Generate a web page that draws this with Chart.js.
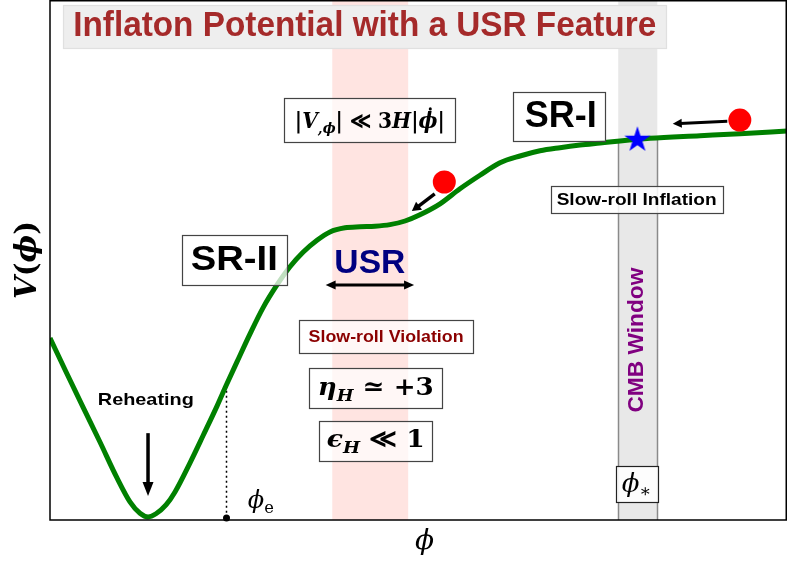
<!DOCTYPE html>
<html>
<head>
<meta charset="utf-8">
<script src="https://cdn.jsdelivr.net/npm/chart.js@4.4.1/dist/chart.umd.min.js"></script>
<style>
  html, body { margin: 0; padding: 0; background: #fff; }
  #wrap { width: 787px; height: 561px; position: relative; }
</style>
</head>
<body>
<div id="wrap"><canvas id="potential-chart"></canvas></div>
<script>
// Potential: phi in arbitrary units (0..10), V normalised (0..1)
const phi = [0.000, 0.217, 0.448, 0.678, 0.909, 1.085, 1.221, 1.330, 1.438, 1.574, 1.696, 1.900,
             2.076, 2.266, 2.388, 2.537, 2.714, 2.890, 3.080, 3.256, 3.433, 3.623, 3.799, 4.003,
             4.206, 4.410, 4.613, 4.817, 5.020, 5.292, 5.563, 5.834, 6.106, 6.377, 6.649, 6.920,
             7.191, 7.463, 7.734, 8.141, 8.820, 9.362, 10.000];
const potential = [0.350, 0.285, 0.217, 0.150, 0.081, 0.035, 0.013, 0.006, 0.012, 0.029, 0.054, 0.110,
                   0.162, 0.219, 0.258, 0.304, 0.358, 0.408, 0.452, 0.487, 0.515, 0.538, 0.554, 0.562,
                   0.564, 0.565, 0.568, 0.575, 0.587, 0.608, 0.637, 0.663, 0.687, 0.700, 0.710, 0.716,
                   0.721, 0.725, 0.729, 0.734, 0.739, 0.743, 0.748];

// Rolling balls and the CMB pivot star
const ballPhi = [9.36, 5.35];
const ballV = [0.769, 0.650];
const starPhi = [7.97];
const starV = [0.731];

// Shaded windows and end of inflation
const usrBand = [3.83, 4.86];
const cmbBand = [7.71, 8.24];
const phiEnd = 2.388;

const vAt = (p) => {
    for (let i = 1; i < phi.length; i++) {
        if (p <= phi[i]) {
            const t = (p - phi[i - 1]) / (phi[i] - phi[i - 1]);
            return potential[i - 1] + t * (potential[i] - potential[i - 1]);
        }
    }
    return potential[potential.length - 1];
};

// filled 5-point star used as a point style
function makeStar(r, color) {
    const c = document.createElement('canvas');
    const s = Math.ceil(r * 2 + 2);
    c.width = s; c.height = s;
    const g = c.getContext('2d');
    g.translate(s / 2, s / 2);
    g.beginPath();
    for (let i = 0; i < 10; i++) {
        const rr = i % 2 === 0 ? r : r * 0.382;
        const a = -Math.PI / 2 + i * Math.PI / 5;
        g.lineTo(rr * Math.cos(a), rr * Math.sin(a));
    }
    g.closePath();
    g.fillStyle = color;
    g.fill();
    return c;
}

const SANS = '"Liberation Sans", Arial, sans-serif';
const SERIF = '"DejaVu Serif", serif';

function serifFont(s, size) {
    const sz = s.sub ? size * 0.68 : size;
    return (s.f.includes('i') ? 'italic ' : '') + (s.f.includes('b') ? 'bold ' : '') + sz + 'px ' + SERIF;
}

const annotations = {
    id: 'annotations',
    beforeDatasetsDraw(chart) {
        const { ctx, chartArea: a, scales: { x, y } } = chart;
        ctx.save();
        // USR window
        ctx.fillStyle = '#ffe4e1';
        ctx.fillRect(x.getPixelForValue(usrBand[0]), a.top, x.getPixelForValue(usrBand[1]) - x.getPixelForValue(usrBand[0]), a.bottom - a.top);
        // CMB window
        ctx.fillStyle = '#e8e8e8';
        ctx.fillRect(x.getPixelForValue(cmbBand[0]), a.top, x.getPixelForValue(cmbBand[1]) - x.getPixelForValue(cmbBand[0]), a.bottom - a.top);
        ctx.strokeStyle = '#8a8a8a';
        ctx.lineWidth = 1.5;
        cmbBand.forEach(p => {
            const xp = Math.round(x.getPixelForValue(p)) + 0.5;
            ctx.beginPath();
            ctx.moveTo(xp, y.getPixelForValue(vAt(p)));
            ctx.lineTo(xp, a.bottom);
            ctx.stroke();
        });
        // end of inflation marker
        const xe = Math.round(x.getPixelForValue(phiEnd)) + 0.5;
        ctx.strokeStyle = '#000';
        ctx.lineWidth = 1.5;
        ctx.setLineDash([2, 3]);
        ctx.beginPath();
        ctx.moveTo(xe, y.getPixelForValue(vAt(phiEnd)));
        ctx.lineTo(xe, a.bottom);
        ctx.stroke();
        ctx.restore();
    },
    afterDatasetsDraw(chart) {
        const { ctx, chartArea: a, scales: { x, y } } = chart;
        const X = v => x.getPixelForValue(v);
        const Y = v => y.getPixelForValue(v);

        const box = (cx, cy, w, h, fill, stroke) => {
            const l = Math.round(cx - w / 2) + 0.5, t = Math.round(cy - h / 2) + 0.5;
            ctx.fillStyle = fill;
            ctx.fillRect(l, t, w, h);
            ctx.strokeStyle = stroke;
            ctx.lineWidth = 1.2;
            ctx.strokeRect(l, t, w, h);
        };
        const sans = (text, cx, cy, size, tw, color, rot) => {
            ctx.save();
            ctx.font = 'bold ' + size + 'px ' + SANS;
            const w = ctx.measureText(text).width;
            ctx.translate(cx, cy);
            if (rot) ctx.rotate(-Math.PI / 2);
            ctx.scale(tw / w, 1);
            ctx.fillStyle = color;
            ctx.textAlign = 'center';
            ctx.textBaseline = 'alphabetic';
            ctx.fillText(text, 0, size * 0.36);
            ctx.restore();
        };
        const rich = (segs, cx, cy, size, tw, rot) => {
            ctx.save();
            let w = 0;
            segs.forEach(s => { ctx.font = serifFont(s, size); s.w = ctx.measureText(s.t).width; w += s.w; });
            ctx.translate(cx, cy);
            if (rot) ctx.rotate(-Math.PI / 2);
            if (tw) ctx.scale(tw / w, 1);
            ctx.fillStyle = '#000';
            ctx.textBaseline = 'alphabetic';
            let xx = -w / 2;
            const base = size * 0.35;
            segs.forEach(s => {
                ctx.font = serifFont(s, size);
                ctx.fillText(s.t, xx, base + (s.sub ? size * 0.22 : 0));
                if (s.dot) {
                    ctx.beginPath();
                    ctx.arc(xx + s.w * 0.62, base - size * 0.86, size * 0.075, 0, Math.PI * 2);
                    ctx.fill();
                }
                xx += s.w;
            });
            ctx.restore();
        };
        const arrow = (x1, y1, x2, y2, lw, hl, hw, both) => {
            const ang = Math.atan2(y2 - y1, x2 - x1);
            const dx = Math.cos(ang), dy = Math.sin(ang);
            ctx.strokeStyle = '#000';
            ctx.fillStyle = '#000';
            ctx.lineWidth = lw;
            ctx.beginPath();
            ctx.moveTo(both ? x1 + dx * hl * 0.8 : x1, both ? y1 + dy * hl * 0.8 : y1);
            ctx.lineTo(x2 - dx * hl * 0.8, y2 - dy * hl * 0.8);
            ctx.stroke();
            const head = (tx, ty, ux, uy) => {
                ctx.beginPath();
                ctx.moveTo(tx, ty);
                ctx.lineTo(tx - ux * hl - uy * hw / 2, ty - uy * hl + ux * hw / 2);
                ctx.lineTo(tx - ux * hl + uy * hw / 2, ty - uy * hl - ux * hw / 2);
                ctx.closePath();
                ctx.fill();
            };
            head(x2, y2, dx, dy);
            if (both) head(x1, y1, -dx, -dy);
        };

        ctx.save();
        ctx.lineCap = 'butt';

        // title
        box(X(4.27), Y(0.949), 603, 43, '#eeeeee', '#e0e0e0');
        sans('Inflaton Potential with a USR Feature', X(4.27), Y(0.955), 35, 583, '#a52a2a');

        // slow-roll regimes
        box(X(6.91), Y(0.776), 92, 49, 'rgba(255,255,255,0.75)', '#444');
        sans('SR-I', X(6.93), Y(0.781), 37, 72, '#000');
        box(X(2.50), Y(0.500), 105, 50, 'rgba(255,255,255,0.75)', '#444');
        sans('SR-II', X(2.50), Y(0.505), 35, 87, '#000');

        // ultra slow-roll
        box(X(4.34), Y(0.769), 171, 44, 'rgba(255,255,255,0.7)', '#444');
        rich([{ t: '|', f: 'b' }, { t: 'V', f: 'bi' }, { t: ',ϕ', f: 'bi', sub: true }, { t: '|', f: 'b' },
              { t: ' ≪ ', f: 'b' }, { t: '3', f: 'b' }, { t: 'H', f: 'bi' }, { t: '|', f: 'b' },
              { t: 'ϕ', f: 'bi', dot: true }, { t: '|', f: 'b' }], X(4.34), Y(0.769), 22, 150);
        sans('USR', X(4.34), Y(0.498), 33, 71, '#000080');
        arrow(X(3.74), Y(0.452), X(4.94), Y(0.452), 3, 10, 9, true);
        box(X(4.56), Y(0.353), 174, 33, 'rgba(255,255,255,0.7)', '#444');
        sans('Slow-roll Violation', X(4.56), Y(0.355), 17, 155, '#8b0000');
        box(X(4.42), Y(0.254), 133, 40, 'rgba(255,255,255,0.7)', '#444');
        rich([{ t: 'η', f: 'bi' }, { t: 'H', f: 'bi', sub: true }, { t: ' ≃ +3', f: 'b' }], X(4.42), Y(0.257), 25, 116);
        box(X(4.42), Y(0.152), 113, 40, 'rgba(255,255,255,0.7)', '#444');
        rich([{ t: 'ϵ', f: 'bi' }, { t: 'H', f: 'bi', sub: true }, { t: ' ≪ 1', f: 'b' }], X(4.42), Y(0.157), 25, 98);

        // CMB window
        box(X(7.96), Y(0.616), 172, 27, 'rgba(255,255,255,0.85)', '#444');
        sans('Slow-roll Inflation', X(7.96), Y(0.617), 17, 160, '#000');
        sans('CMB Window', X(7.94), Y(0.346), 22, 145, '#800080', true);
        box(X(7.96), Y(0.069), 42, 36, 'rgba(255,255,255,0.9)', '#222');
        rich([{ t: 'ϕ', f: 'i' }, { t: '∗', f: 'r', sub: true }], X(7.96), Y(0.072), 26);

        // rolling directions
        arrow(X(9.19), Y(0.767), X(8.45), Y(0.762), 3, 9, 9);
        arrow(X(5.22), Y(0.627), X(4.91), Y(0.594), 3.5, 9, 10);

        // reheating
        sans('Reheating', X(1.30), Y(0.233), 17, 96, '#000');
        arrow(X(1.33), Y(0.167), X(1.33), Y(0.046), 3.5, 14, 11);
        rich([{ t: 'ϕ', f: 'i' }, { t: 'e', f: 'r', sub: true }], X(2.86), Y(0.040), 24);

        // frame
        ctx.strokeStyle = '#000';
        ctx.lineWidth = 1.5;
        ctx.strokeRect(a.left, a.top + 0.75, a.right - a.left - 0.75, a.bottom - a.top - 0.75);
        ctx.fillStyle = '#000';
        ctx.beginPath();
        ctx.arc(Math.round(X(phiEnd)) + 0.5, a.bottom - 2, 3.5, 0, Math.PI * 2);
        ctx.fill();

        // axis titles
        rich([{ t: 'ϕ', f: 'i' }], (a.left + a.right) / 2 + 6, a.bottom + 19, 28);
        rich([{ t: 'V', f: 'bi' }, { t: '(', f: 'b' }, { t: 'ϕ', f: 'bi' }, { t: ')', f: 'b' }], a.left - 25, (a.top + a.bottom) / 2, 30, 78, true);
        ctx.restore();
    }
};

new Chart(document.getElementById('potential-chart'), {
    type: 'line',
    data: {
        datasets: [
            {
                label: 'V(phi)',
                data: phi.map((p, i) => ({ x: p, y: potential[i] })),
                borderColor: '#008000',
                borderWidth: 5,
                pointRadius: 0,
                cubicInterpolationMode: 'monotone',
                fill: false,
                order: 3
            },
            {
                label: 'inflaton',
                data: ballPhi.map((p, i) => ({ x: p, y: ballV[i] })),
                showLine: false,
                pointRadius: 11.5,
                pointBackgroundColor: '#ff0000',
                pointBorderWidth: 0,
                order: 1
            },
            {
                label: 'pivot',
                data: starPhi.map((p, i) => ({ x: p, y: starV[i] })),
                showLine: false,
                pointStyle: makeStar(13.7, '#0000ff'),
                pointRadius: 14,
                order: 1
            }
        ]
    },
    options: {
        responsive: true,
        maintainAspectRatio: false,
        animation: false,
        events: [],
        layout: { autoPadding: false, padding: { left: 50, right: 0, top: 0, bottom: 41 } },
        plugins: { legend: { display: false }, tooltip: { enabled: false } },
        scales: {
            x: { type: 'linear', min: 0, max: 10, display: false },
            y: { type: 'linear', min: 0, max: 1, display: false }
        }
    },
    plugins: [annotations]
});
</script>
</body>
</html>
